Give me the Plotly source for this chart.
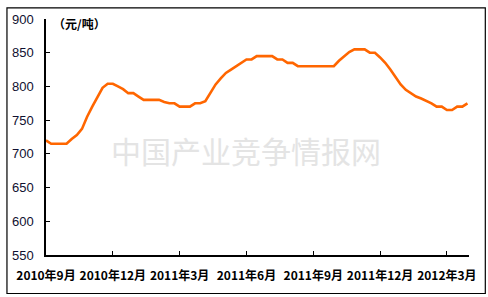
import plotly.graph_objects as go

# Weekly price (元/吨), week index 0 = 2010年9月
week = list(range(83))
price = [720, 715, 715, 715, 715, 722, 728, 737, 755, 770,
         785, 798, 804, 804, 800, 796, 790, 790, 785, 780,
         780, 780, 780, 777, 775, 775, 770, 770, 770, 775,
         775, 778, 790, 803, 812, 820, 825, 830, 835, 840,
         840, 845, 845, 845, 845, 840, 840, 835, 835, 830,
         830, 830, 830, 830, 830, 830, 830, 838, 845, 851,
         855, 855, 855, 850, 850, 843, 835, 825, 813, 803,
         795, 790, 785, 782, 779, 775, 770, 770, 765, 765,
         770, 770, 775]

tick_pos = [0, 13, 26, 39, 52, 65, 78]
tick_text = ["2010年9月", "2010年12月", "2011年3月", "2011年6月",
             "2011年9月", "2011年12月", "2012年3月"]
y_ticks = [550, 600, 650, 700, 750, 800, 850, 900]

W, H = 488, 297
L, R, T, B = 41, 19, 13, 42
pw, ph = W - L - R, H - T - B

def px(x):
    return (x - L) / pw

def py(y):
    return (H - B - y) / ph

fig = go.Figure()
fig.add_trace(go.Scatter(x=week, y=price, mode="lines",
                         line=dict(color="#FF6600", width=2.6),
                         hoverinfo="skip", showlegend=False))

fig.update_layout(
    width=W, height=H,
    margin=dict(l=L, r=R, t=T, b=B),
    paper_bgcolor="white", plot_bgcolor="white",
    showlegend=False,
    xaxis=dict(range=[0, 82.3], tickmode="array", tickvals=tick_pos,
               ticktext=tick_text, ticks="inside", ticklen=4, tickcolor="black",
               showline=True, linecolor="black", linewidth=1.5,
               showgrid=False, zeroline=False, ticklabelstandoff=9,
               tickfont=dict(family="Noto Sans CJK SC", size=12, color="black",
                             weight="bold")),
    yaxis=dict(range=[550, 900], tickmode="array", tickvals=y_ticks,
               ticks="inside", ticklen=4, tickcolor="black",
               showline=True, linecolor="black", linewidth=1.5,
               showgrid=False, zeroline=False, ticklabelstandoff=8,
               tickfont=dict(family="Liberation Sans", size=13, color="#101030")),
)

fig.add_annotation(text="中国产业竞争情报网", xref="paper", yref="paper",
                   x=px(243), y=py(147), showarrow=False,
                   font=dict(family="Noto Sans CJK SC", size=30, color="#e4e4e4"))
fig.add_annotation(text="（元/吨）", xref="paper", yref="paper",
                   x=px(46), y=py(18), xanchor="left", yanchor="middle",
                   showarrow=False,
                   font=dict(family="Noto Sans CJK SC", size=12, color="black",
                             weight="bold"))
fig.add_shape(type="rect", xref="paper", yref="paper",
              x0=px(1.5), x1=px(485.5), y0=py(294.5), y1=py(1.5),
              line=dict(color="black", width=1.2), layer="above")

fig.write_html("out.html")
